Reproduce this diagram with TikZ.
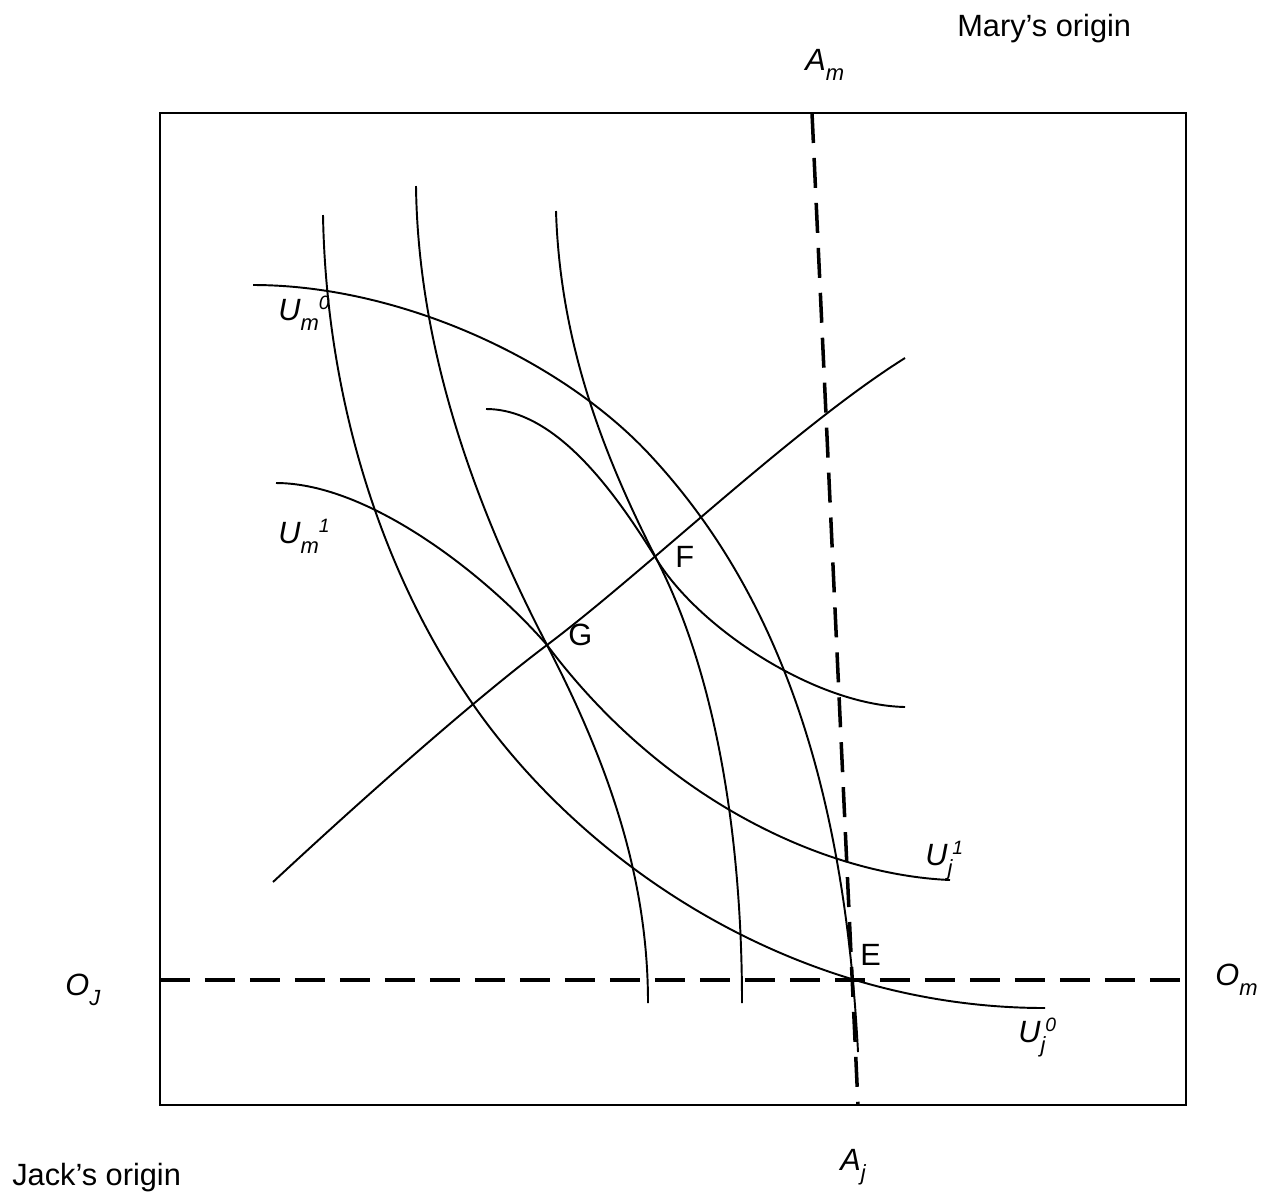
\documentclass[tikz,border=0pt]{standalone}
\usepackage{fontspec}
\setmainfont{Liberation Sans}
\usetikzlibrary{positioning}
\newcommand{\lsub}[1]{\raisebox{-5.8pt}{\fontsize{12.5}{12.5}\selectfont #1}}
\newcommand{\lsup}[1]{\raisebox{6pt}{\fontsize{11}{11}\selectfont #1}}

\begin{document}
\begin{tikzpicture}[
  x=0.02cm, y=-0.02cm,
  curve/.style={line width=1.1pt},
  axisline/.style={line width=2pt, dash pattern=on 0.6cm off 0.3cm},
  lbl/.style={font=\fontsize{17.5}{20}\selectfont\itshape, inner sep=0pt, anchor=base west},
  txt/.style={font=\fontsize{17.5}{20}\selectfont, inner sep=0pt, anchor=base west}
]
  \useasboundingbox (0,0) rectangle (1266,1198);
  % the box
  \coordinate (bl) at (160,1105);
  \coordinate (tr) at (1186,113);
  \draw[line width=1.1pt] (bl) rectangle (tr);

  % dashed lines
  \coordinate (oj) at (160,980);
  \coordinate (om) at (1186,980);
  \coordinate (am) at (812,113);
  \coordinate (aj) at (858,1105);
  \draw[axisline] (oj) -- (om);
  \draw[axisline] (am) -- (aj);

  % points
  \coordinate (e) at (852,980);
  \coordinate (f) at (657,560);
  \coordinate (g) at (547,645);

  % Jack's curves
  \draw[curve] (323,215) .. controls (326,385) and (374,560) .. (470,700)
    .. controls (583,865) and (795,1008) .. (1045,1008);
  \draw[curve] (416,186) .. controls (418,346) and (473,503) .. (g)
    .. controls (607,761) and (648,875) .. (648,1003);
  \draw[curve] (556,211) .. controls (560,341) and (602,453) .. (f)
    .. controls (721,685) and (742,855) .. (742,1003);

  % Mary's curves
  \draw[curve] (253,285) .. controls (400,285) and (562,360) .. (650,455)
    .. controls (786,601) and (845,802) .. (858,1052);
  \draw[curve] (276,483) .. controls (370,483) and (488,577) .. (g)
    .. controls (667,805) and (830,875) .. (950,880);
  \draw[curve] (486,409) .. controls (556,409) and (615,492) .. (f)
    .. controls (699,628) and (815,705) .. (905,707);

  % contract curve
  \draw[curve] (273,882) .. controls (361,800) and (475,699) .. (g)
    .. controls (643,573) and (795,427) .. (905,358);

  % labels
  \node[txt] (mary) at (957,36) {Mary’s origin};
  \node[txt] (jack) at (12,1185) {Jack’s origin};
  \node[lbl] (Am) at (805,70) {A\lsub{m}};
  \node[lbl] (Aj) at (840,1170) {A\lsub{j}};
  \node[lbl] (OJ) at (65,995) {O\lsub{J}};
  \node[lbl] (Om) at (1215,985) {O\lsub{m}};
  \node[txt] (E) at (860,965) {E};
  \node[txt] (F) at (675,567) {F};
  \node[txt] (G) at (568,645) {G};
  \node[lbl] (Um0) at (278,320) {U\lsub{m}\lsup{0}};
  \node[lbl] (Um1) at (278,543) {U\lsub{m}\lsup{1}};
  \node[lbl] (Uj1) at (925,865) {U\lsub{j}\lsup{1}};
  \node[lbl] (Uj0) at (1018,1042) {U\lsub{j}\lsup{0}};
\end{tikzpicture}
\end{document}
